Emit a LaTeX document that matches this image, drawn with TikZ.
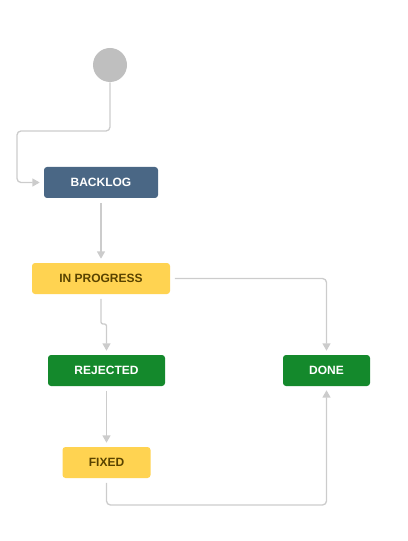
\documentclass[tikz,border=0pt]{standalone}
\usepackage{fontspec}
\setmainfont{Liberation Sans}
\usetikzlibrary{arrows.meta}
\definecolor{bluegray}{HTML}{4A6785}
\definecolor{statusyellow}{HTML}{FFD351}
\definecolor{statusgreen}{HTML}{14892C}
\definecolor{yellowtext}{HTML}{594300}
\definecolor{startgray}{HTML}{BFBFBF}
\definecolor{edgegray}{HTML}{CCCCCC}
\begin{document}
\begin{tikzpicture}[x=0.75pt,y=-0.75pt,
  status/.style={rectangle, rounded corners=2.25pt, minimum height=23.25pt, inner sep=0pt,
    font=\fontsize{9}{10}\selectfont\bfseries},
  bluebox/.style={status, fill=bluegray, text=white},
  yellowbox/.style={status, fill=statusyellow, text=yellowtext},
  greenbox/.style={status, fill=statusgreen, text=white},
  startnode/.style={circle, fill=startgray, minimum size=25.5pt, inner sep=0pt},
  flow/.style={draw=edgegray, line width=1pt, rounded corners=3pt,
    -{Triangle[width=6pt,length=5.5pt]}, shorten >=3pt, shorten <=3.5pt}
]
\useasboundingbox (0,0) rectangle (407,541);
\node[startnode] (start) at (110,65) {};
\node[bluebox, minimum width=85.5pt] (backlog) at (101,182.5) {BACKLOG};
\node[yellowbox, minimum width=103.5pt] (inprog) at (101,278.5) {IN PROGRESS};
\node[greenbox, minimum width=87.75pt] (rejected) at (106.5,370.5) {REJECTED};
\node[greenbox, minimum width=65.25pt] (done) at (326.5,370.5) {DONE};
\node[yellowbox, minimum width=66pt] (fixed) at (106.5,462.5) {FIXED};
\coordinate (c1) at (17,131);
\coordinate (j1) at (106.5,324);
\coordinate (c2) at (200,505);
\draw[flow, shorten <=0pt] (start.south) |- (c1) |- (backlog.west);
\draw[flow] (backlog) -- (inprog);
\draw[flow] (inprog.east) -| (done.north);
\draw[flow, rounded corners=1.5pt] (inprog.south) |- (j1) -- (rejected.north);
\draw[flow] (rejected) -- (fixed);
\draw[flow] (fixed.south) |- (c2) -| (done.south);
\end{tikzpicture}
\end{document}
